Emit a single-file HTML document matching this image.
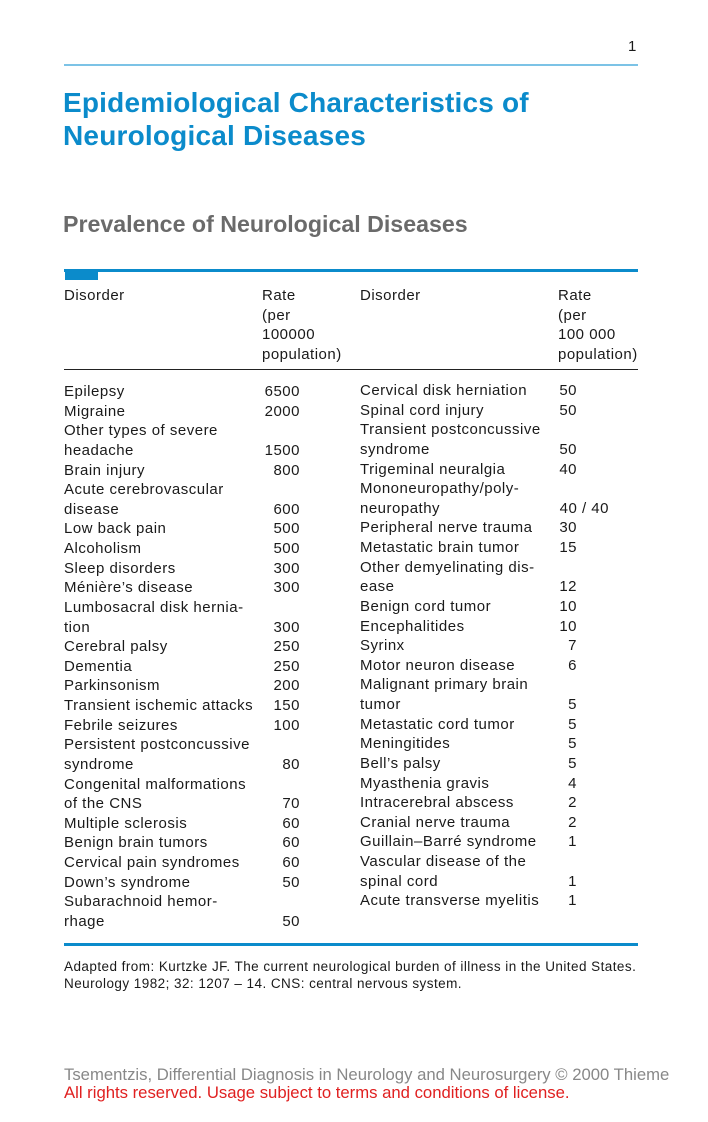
<!DOCTYPE html>
<html><head><style>
body{margin:0;width:708px;height:1122px;background:#fff;position:relative;font-family:"Liberation Sans",sans-serif;color:#1a1a1a;overflow:hidden}
.a{position:absolute;white-space:nowrap}
.r{font-size:15px;line-height:19.63px;letter-spacing:0.5px}
</style></head><body>
<div class="a" style="left:628px;top:38px;font-size:15px">1</div>
<div class="a" style="left:64px;top:64px;width:574px;height:2px;background:#7cc3e6"></div>
<div class="a" style="left:63px;top:86px;font-size:28px;line-height:33px;font-weight:bold;color:#0b8bcb;letter-spacing:0.2px">Epidemiological Characteristics of<br>Neurological Diseases</div>
<div class="a" style="left:63px;top:211px;font-size:23.2px;font-weight:bold;color:#6a6a6a">Prevalence of Neurological Diseases</div>
<div class="a" style="left:64px;top:269px;width:574px;height:3px;background:#0b8bcb"></div>
<div class="a" style="left:65px;top:269px;width:33px;height:11px;background:#0b8bcb"></div>
<div class="a r" style="left:64px;top:286px">Disorder</div>
<div class="a r" style="left:262px;top:286px">Rate<br>(per<br>100000<br>population)</div>
<div class="a r" style="left:360px;top:286px">Disorder</div>
<div class="a r" style="left:558px;top:286px">Rate<br>(per<br>100 000<br>population)</div>
<div class="a" style="left:64px;top:369px;width:574px;height:1px;background:#222"></div>
<div class="a r" style="left:64px;top:382px">Epilepsy<br>Migraine<br>Other types of severe<br>headache<br>Brain injury<br>Acute cerebrovascular<br>disease<br>Low back pain<br>Alcoholism<br>Sleep disorders<br>Ménière’s disease<br>Lumbosacral disk hernia-<br>tion<br>Cerebral palsy<br>Dementia<br>Parkinsonism<br>Transient ischemic attacks<br>Febrile seizures<br>Persistent postconcussive<br>syndrome<br>Congenital malformations<br>of the CNS<br>Multiple sclerosis<br>Benign brain tumors<br>Cervical pain syndromes<br>Down’s syndrome<br>Subarachnoid hemor-<br>rhage</div>
<div class="a r" style="left:240px;width:60px;text-align:right;top:382px">6500<br>2000<br>&nbsp;<br>1500<br>800<br>&nbsp;<br>600<br>500<br>500<br>300<br>300<br>&nbsp;<br>300<br>250<br>250<br>200<br>150<br>100<br>&nbsp;<br>80<br>&nbsp;<br>70<br>60<br>60<br>60<br>50<br>&nbsp;<br>50</div>
<div class="a r" style="left:360px;top:381px">Cervical disk herniation<br>Spinal cord injury<br>Transient postconcussive<br>syndrome<br>Trigeminal neuralgia<br>Mononeuropathy/poly-<br>neuropathy<br>Peripheral nerve trauma<br>Metastatic brain tumor<br>Other demyelinating dis-<br>ease<br>Benign cord tumor<br>Encephalitides<br>Syrinx<br>Motor neuron disease<br>Malignant primary brain<br>tumor<br>Metastatic cord tumor<br>Meningitides<br>Bell’s palsy<br>Myasthenia gravis<br>Intracerebral abscess<br>Cranial nerve trauma<br>Guillain–Barré syndrome<br>Vascular disease of the<br>spinal cord<br>Acute transverse myelitis</div>
<div class="a r" style="left:517px;width:60px;text-align:right;top:381px">50<br>50<br>&nbsp;<br>50<br>40<br>&nbsp;<br><span style="position:relative;left:32px">40 / 40</span><br>30<br>15<br>&nbsp;<br>12<br>10<br>10<br>7<br>6<br>&nbsp;<br>5<br>5<br>5<br>5<br>4<br>2<br>2<br>1<br>&nbsp;<br>1<br>1</div>
<div class="a" style="left:64px;top:943px;width:574px;height:3px;background:#0b8bcb"></div>
<div class="a" style="left:64px;top:958px;font-size:13.5px;line-height:17px;letter-spacing:0.45px">Adapted from: Kurtzke JF. The current neurological burden of illness in the United States.<br>Neurology 1982; 32: 1207 – 14. CNS: central nervous system.</div>
<div class="a" style="left:64px;top:1065px;font-size:16.7px;line-height:19px;color:#888">Tsementzis, Differential Diagnosis in Neurology and Neurosurgery © 2000 Thieme</div>
<div class="a" style="left:64px;top:1083px;font-size:16.7px;line-height:19px;color:#e02020">All rights reserved. Usage subject to terms and conditions of license.</div>
</body></html>
